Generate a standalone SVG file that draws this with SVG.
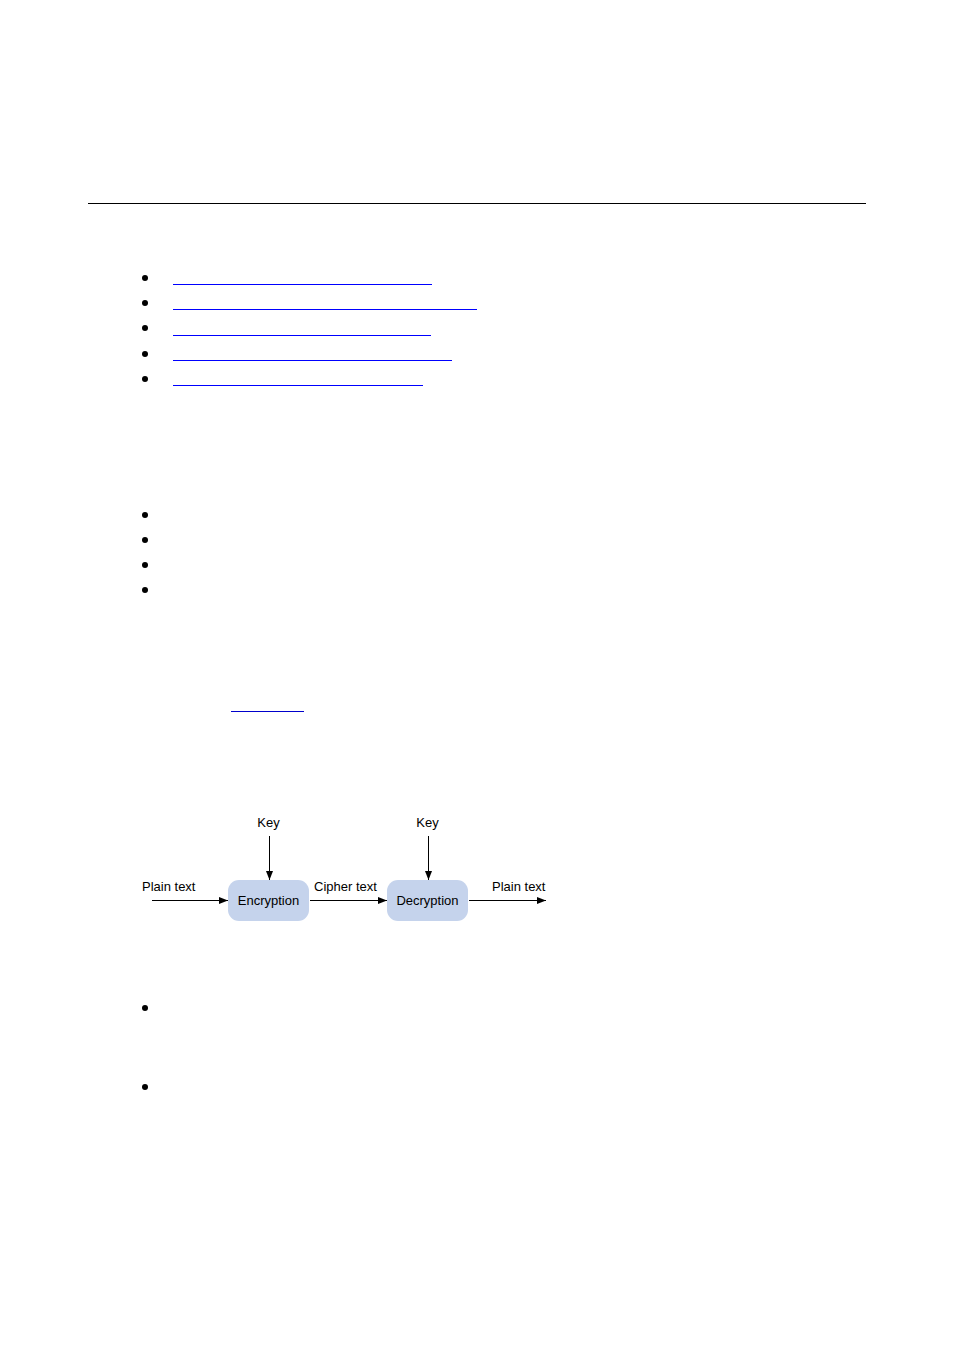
<svg xmlns="http://www.w3.org/2000/svg" width="954" height="1350" viewBox="0 0 954 1350">
<style>
.t{font-family:"Liberation Sans",Arial,sans-serif;font-size:13px;fill:#000}
.box{fill:#c5d3ec;stroke:none}
.ln{stroke:#000;stroke-width:1;fill:none}
.link{stroke:#0000ff;stroke-width:1}
.b{fill:#000}
</style>
<defs>
<marker id="ah" markerWidth="9" markerHeight="8" refX="9" refY="4" orient="auto" markerUnits="userSpaceOnUse">
<path d="M0,0.5 L9,4 L0,7.5 Z" fill="#000"/>
</marker>
</defs>
<rect width="954" height="1350" fill="#fff"/>
<line x1="88" y1="203.5" x2="866" y2="203.5" stroke="#000" stroke-width="1"/>
<g id="toc">
<circle class="b" cx="145" cy="278" r="3"/>
<circle class="b" cx="145" cy="303" r="3"/>
<circle class="b" cx="145" cy="328" r="3"/>
<circle class="b" cx="145" cy="354" r="3"/>
<circle class="b" cx="145" cy="379" r="3"/>
<line class="link" x1="173" y1="284.5" x2="432" y2="284.5"/>
<line class="link" x1="173" y1="309.5" x2="477" y2="309.5"/>
<line class="link" x1="173" y1="335.5" x2="431" y2="335.5"/>
<line class="link" x1="173" y1="360.5" x2="452" y2="360.5"/>
<line class="link" x1="173" y1="385.5" x2="423" y2="385.5"/>
</g>
<g id="list2">
<circle class="b" cx="145" cy="515" r="3"/>
<circle class="b" cx="145" cy="540" r="3"/>
<circle class="b" cx="145" cy="565" r="3"/>
<circle class="b" cx="145" cy="590" r="3"/>
<line x1="231" y1="711.5" x2="304" y2="711.5" stroke="#0000cc" stroke-width="1"/>
</g>
<g id="connectors">
<line class="ln" x1="269.5" y1="836" x2="269.5" y2="880" marker-end="url(#ah)"/>
<line class="ln" x1="428.5" y1="836" x2="428.5" y2="880" marker-end="url(#ah)"/>
<line class="ln" x1="152" y1="900.5" x2="228" y2="900.5" marker-end="url(#ah)"/>
<line class="ln" x1="310" y1="900.5" x2="387" y2="900.5" marker-end="url(#ah)"/>
<line class="ln" x1="469" y1="900.5" x2="546" y2="900.5" marker-end="url(#ah)"/>
</g>
<g id="encryption">
<rect class="box" x="228" y="880" width="81" height="41" rx="11"/>
<text class="t" x="268.5" y="905" text-anchor="middle">Encryption</text>
</g>
<g id="decryption">
<rect class="box" x="387" y="880" width="81" height="41" rx="11"/>
<text class="t" x="427.5" y="905" text-anchor="middle">Decryption</text>
</g>
<g id="labels">
<text class="t" x="268.5" y="827" text-anchor="middle">Key</text>
<text class="t" x="427.5" y="827" text-anchor="middle">Key</text>
<text class="t" x="142" y="891">Plain text</text>
<text class="t" x="314" y="891">Cipher text</text>
<text class="t" x="492" y="891">Plain text</text>
</g>
<g id="list3">
<circle class="b" cx="145" cy="1008" r="3"/>
<circle class="b" cx="145" cy="1087" r="3"/>
</g>
</svg>
